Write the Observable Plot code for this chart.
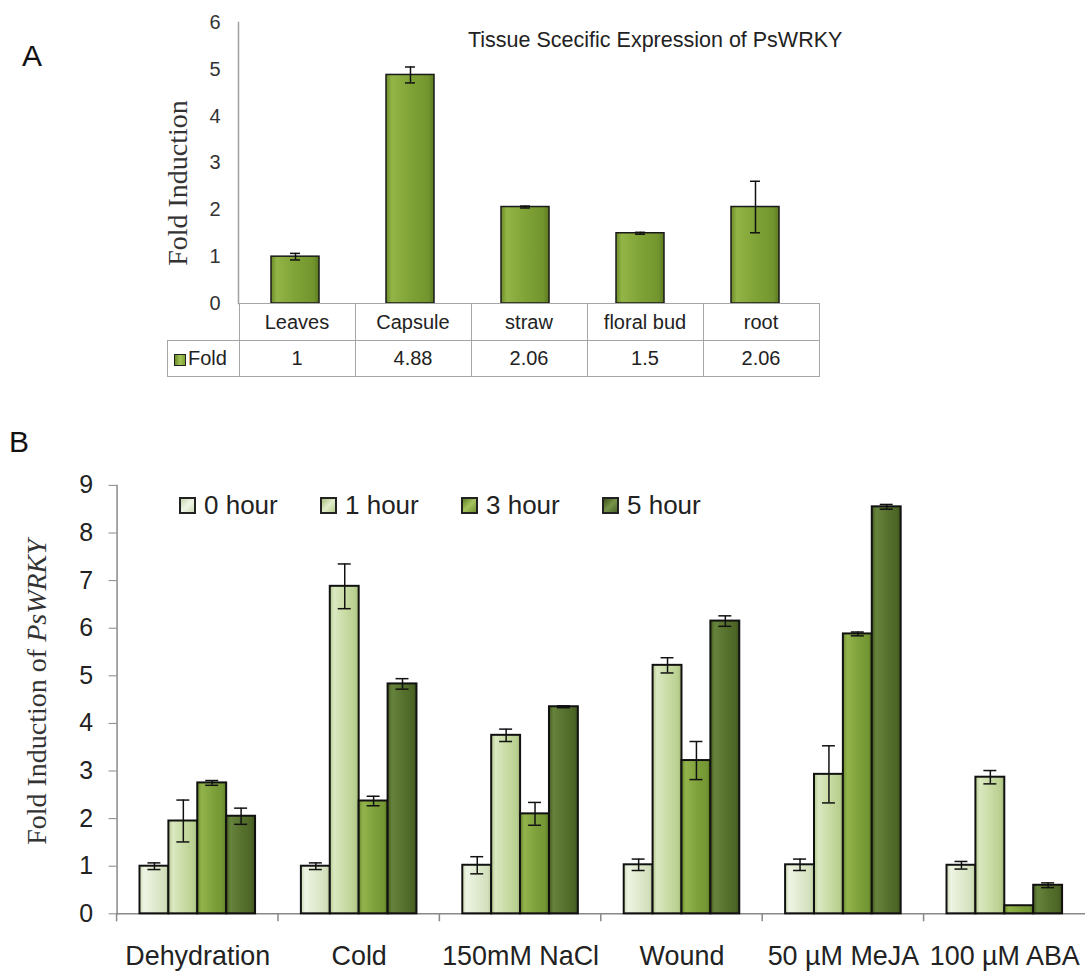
<!DOCTYPE html>
<html><head><meta charset="utf-8">
<script src="https://cdn.jsdelivr.net/npm/d3@7"></script>
<script src="https://cdn.jsdelivr.net/npm/@observablehq/plot@0.6"></script>
<style>
body{margin:0;background:#fff;overflow:hidden;font-family:Arial,"Liberation Sans",sans-serif;}
#page{position:relative;width:1085px;height:973px;overflow:hidden;background:#fff;}
.abs{position:absolute;white-space:nowrap;line-height:1;}
.c{transform:translate(-50%,-50%);}
.rot{transform:translate(-50%,-50%) rotate(-90deg);font-family:"Liberation Serif","Times New Roman",serif;color:#333;}
table.dt{position:absolute;border-collapse:collapse;table-layout:fixed;font-size:20px;color:#222;}
table.dt td{border:1.5px solid #a6a6a6;text-align:center;padding:0;white-space:nowrap;}
table.dt td.blank{border:none;}
.sw{display:inline-block;width:10px;height:10px;border:1.5px solid #222;vertical-align:middle;margin-right:2px;}
.leg{position:absolute;display:flex;align-items:center;font-size:26px;color:#222;line-height:1;}
.leg .box{width:13px;height:13px;border:2px solid #222;margin-right:8px;}
svg.plot{position:absolute;left:0;}
</style></head><body>
<svg width="0" height="0" style="position:absolute">
<defs>
<linearGradient id="gA" x1="0" x2="1" y1="0" y2="0">
<stop offset="0" stop-color="#6a8a28"/><stop offset="0.12" stop-color="#93b446"/><stop offset="0.5" stop-color="#80a337"/><stop offset="0.88" stop-color="#73952e"/><stop offset="1" stop-color="#5b7a20"/>
</linearGradient>
<linearGradient id="g0" x1="0" x2="1" y1="0" y2="0">
<stop offset="0" stop-color="#cbd9b3"/><stop offset="0.15" stop-color="#eef4e3"/><stop offset="0.55" stop-color="#dfe9cd"/><stop offset="0.88" stop-color="#d2dfbc"/><stop offset="1" stop-color="#b9c99d"/>
</linearGradient>
<linearGradient id="g1" x1="0" x2="1" y1="0" y2="0">
<stop offset="0" stop-color="#b1c78a"/><stop offset="0.15" stop-color="#dbe8c1"/><stop offset="0.55" stop-color="#c8dba3"/><stop offset="0.88" stop-color="#b9cf90"/><stop offset="1" stop-color="#9fb676"/>
</linearGradient>
<linearGradient id="g2" x1="0" x2="1" y1="0" y2="0">
<stop offset="0" stop-color="#6a8b2c"/><stop offset="0.15" stop-color="#92b34c"/><stop offset="0.55" stop-color="#7fa13b"/><stop offset="0.88" stop-color="#739533"/><stop offset="1" stop-color="#5a7a22"/>
</linearGradient>
<linearGradient id="g3" x1="0" x2="1" y1="0" y2="0">
<stop offset="0" stop-color="#44591f"/><stop offset="0.15" stop-color="#66833c"/><stop offset="0.55" stop-color="#56712d"/><stop offset="0.88" stop-color="#4c6526"/><stop offset="1" stop-color="#3b4f1a"/>
</linearGradient>
</defs></svg>
<div id="page"></div>
<script>
// ---------- Panel A data ----------
const tissues = ["Leaves", "Capsule", "straw", "floral bud", "root"];
const tissueFold = [1, 4.88, 2.06, 1.5, 2.06];
const tissueErr = [0.07, 0.17, 0.02, 0.02, 0.55];
const tissueTickLabels = [0, 1, 2, 3, 4, 5, 6];
const seriesNameA = "Fold";

// ---------- Panel B data ----------
const treatments = ["Dehydration", "Cold", "150mM NaCl", "Wound", "50 µM MeJA", "100 µM ABA"];
const hours = ["0 hour", "1 hour", "3 hour", "5 hour"];
const fold0h = [1.0, 1.0, 1.02, 1.03, 1.03, 1.02];
const fold1h = [1.95, 6.88, 3.75, 5.22, 2.93, 2.87];
const fold3h = [2.75, 2.37, 2.1, 3.22, 5.88, 0.17];
const fold5h = [2.05, 4.83, 4.35, 6.15, 8.55, 0.6];
const err0h = [0.07, 0.07, 0.18, 0.12, 0.12, 0.08];
const err1h = [0.44, 0.47, 0.13, 0.16, 0.6, 0.14];
const err3h = [0.05, 0.1, 0.24, 0.4, 0.04, 0];
const err5h = [0.17, 0.11, 0.02, 0.11, 0.05, 0.05];
const treatmentTickLabels = [0, 1, 2, 3, 4, 5, 6, 7, 8, 9];

const dataA = tissues.map((t, i) => ({tissue: t, fold: tissueFold[i], err: tissueErr[i]}));
const foldB = [fold0h, fold1h, fold3h, fold5h];
const errB = [err0h, err1h, err3h, err5h];
const dataB = treatments.flatMap((t, i) => hours.map((h, j) => ({treatment: t, hour: h, fold: foldB[j][i], err: errB[j][i]})));

const page = document.getElementById("page");
function addDiv(cls, html, left, top, size, extra) {
  const d = document.createElement("div");
  d.className = "abs " + cls;
  d.innerHTML = html;
  d.style.left = left + "px"; d.style.top = top + "px"; d.style.fontSize = size + "px";
  if (extra) Object.assign(d.style, extra);
  page.appendChild(d);
  return d;
}
const font = "Arial, 'Liberation Sans', sans-serif";

// ---------- Panel A ----------
const A = Plot.plot({
  width: 1085, height: 303,
  marginLeft: 238, marginRight: 272, marginTop: 22, marginBottom: 0,
  style: {fontFamily: font, fontSize: "20px", color: "#333", overflow: "visible", background: "transparent"},
  x: {domain: tissues, paddingInner: 0.58, paddingOuter: 0.29, axis: null},
  y: {domain: [0, 6], axis: null},
  marks: [
    Plot.axisY({ticks: tissueTickLabels, tickFormat: d => String(d), tickSize: 0, tickPadding: 18, label: null, fontSize: 20, fill: "#333"}),
    Plot.frame({anchor: "left", stroke: "#a0a0a0", strokeWidth: 1.5}),
    Plot.barY(dataA, {x: "tissue", y: "fold", fill: "url(#gA)", stroke: "#1a1a1a", strokeWidth: 1.5}),
    Plot.ruleX(dataA, {x: "tissue", y1: d => d.fold - d.err, y2: d => d.fold + d.err, stroke: "#111", strokeWidth: 1.5}),
    Plot.tickY(dataA, {x: "tissue", y: d => d.fold + d.err, stroke: "#111", strokeWidth: 1.5, inset: 19}),
    Plot.tickY(dataA, {x: "tissue", y: d => d.fold - d.err, stroke: "#111", strokeWidth: 1.5, inset: 19})
  ]
});
A.classList.add("plot");
A.style.top = "0px";
page.appendChild(A);

// data table under panel A, aligned to the band scale
const xA = A.scale("x");
const stepA = xA.step;
const leftA = xA.range[0];
const tbl = document.createElement("table");
tbl.className = "dt";
tbl.style.left = (leftA - 71) + "px";
tbl.style.top = "303px";
let r1 = `<tr style="height:37px"><td class="blank" style="width:71px"></td>` + tissues.map(t => `<td style="width:${stepA}px">${t}</td>`).join("") + `</tr>`;
let r2 = `<tr style="height:36px"><td style="text-align:left;padding-left:6px"><span class="sw" style="background:linear-gradient(90deg,#6a8a28,#a4c456,#7fa236)"></span>${seriesNameA}</td>` + tissueFold.map(v => `<td>${v}</td>`).join("") + `</tr>`;
tbl.innerHTML = r1 + r2;
page.appendChild(tbl);

addDiv("", "Tissue Scecific Expression of PsWRKY", 468, 30, 21.5, {color: "#222"});
addDiv("rot", "Fold Induction", 178, 183, 28);
addDiv("c", "A", 32, 56, 30, {color: "#111"});

// ---------- Panel B ----------
const topB = 460;
const B = Plot.plot({
  width: 1089, height: 513,
  marginLeft: 117, marginRight: 0, marginTop: 25, marginBottom: 58,
  style: {fontFamily: font, fontSize: "25px", color: "#222", overflow: "visible", background: "transparent"},
  fx: {domain: treatments, padding: 0, axis: null},
  x: {domain: hours, paddingInner: 0, paddingOuter: 0.7, axis: null},
  y: {domain: [0, 9], axis: null},
  color: {domain: hours, range: ["url(#g0)", "url(#g1)", "url(#g2)", "url(#g3)"]},
  marks: [
    Plot.axisY({ticks: treatmentTickLabels, tickSize: 8, tickPadding: 16, label: null, fontSize: 25, stroke: "#888", fill: "#222"}),
    Plot.axisFx({anchor: "bottom", tickSize: 0, tickPadding: 32, label: null, fontSize: 27, fill: "#222"}),
    Plot.frame({anchor: "left", facetAnchor: "left", stroke: "#888", strokeWidth: 1.5}),
    Plot.ruleY([0], {stroke: "#888", strokeWidth: 1.5}),
    Plot.barY(dataB, {fx: "treatment", x: "hour", y: "fold", fill: "hour", stroke: "#111", strokeWidth: 2}),
    Plot.ruleX(dataB.filter(d => d.err > 0), {fx: "treatment", x: "hour", y1: d => d.fold - d.err, y2: d => d.fold + d.err, stroke: "#111", strokeWidth: 1.5}),
    Plot.tickY(dataB.filter(d => d.err > 0), {fx: "treatment", x: "hour", y: d => d.fold + d.err, stroke: "#111", strokeWidth: 1.5, inset: 8}),
    Plot.tickY(dataB.filter(d => d.err > 0), {fx: "treatment", x: "hour", y: d => d.fold - d.err, stroke: "#111", strokeWidth: 1.5, inset: 8})
  ]
});
B.classList.add("plot");
B.style.top = topB + "px";
page.appendChild(B);

// group boundary ticks on the x axis, from the fx scale
const fxB = B.scale("fx"), yB = B.scale("y");
const y0 = yB.apply(0);
const g = d3.select(B).append("g").attr("stroke", "#888").attr("stroke-width", 1.5);
treatments.forEach(t => {
  const xx = fxB.apply(t);
  g.append("line").attr("x1", xx).attr("x2", xx).attr("y1", y0).attr("y2", y0 + 8);
});

// legend
const legColors = [
  "linear-gradient(135deg,#c7d5ae,#f0f5e6 50%,#cfdcb8)",
  "linear-gradient(135deg,#a9bf80,#e2edcb 50%,#b8cd90)",
  "linear-gradient(135deg,#5f7f26,#a6c45e 50%,#6f912f)",
  "linear-gradient(135deg,#3e5219,#76944a 50%,#4c6526)"
];
hours.forEach((h, i) => {
  const d = document.createElement("div");
  d.className = "leg";
  d.style.left = (179 + i * 141) + "px";
  d.style.top = "492px";
  d.innerHTML = `<span class="box" style="background:${legColors[i]}"></span><span>${h}</span>`;
  page.appendChild(d);
});

addDiv("rot", "Fold Induction of <i>PsWRKY</i>", 37, 692, 28);
addDiv("c", "B", 19, 442, 30, {color: "#111"});
</script>
</body></html>
